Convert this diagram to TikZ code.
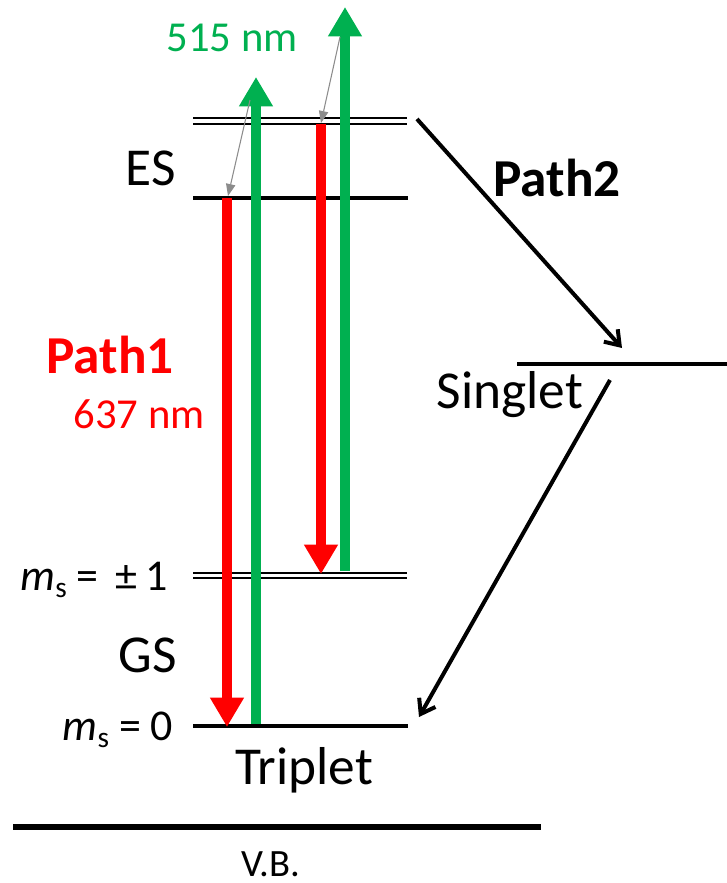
\documentclass[tikz,border=0pt]{standalone}
\usepackage{fontspec}
\setmainfont{Carlito}
\usetikzlibrary{arrows.meta}
\definecolor{pgreen}{RGB}{0,176,80}
\definecolor{pred}{RGB}{255,0,0}
\begin{document}
\begin{tikzpicture}[x=0.75pt,y=-0.75pt,
  level/.style={line width=3pt},
  thinlevel/.style={line width=1.6pt},
  beam/.style={line width=7.5pt,-{Triangle[width=24pt,length=22pt]}},
  graya/.style={draw=gray!90,line width=0.8pt,-{Triangle[width=7pt,length=9pt]}},
  blacka/.style={line width=3pt,-{Straight Barb[width=14pt,length=10pt,line width=3pt]}},
  lbl/.style={inner sep=0pt,font=\fontsize{40}{48}\selectfont},
  wl/.style={inner sep=0pt,font=\fontsize{32}{38}\selectfont},
  msl/.style={inner sep=0pt,font=\fontsize{33}{40}\selectfont}]
\useasboundingbox (0,0) rectangle (727,883);
% levels
\coordinate (esaL) at (193,118); \coordinate (esaR) at (407,118);
\coordinate (esbL) at (193,124); \coordinate (esbR) at (407,124);
\draw[thinlevel] (esaL) -- (esaR); \draw[thinlevel] (esbL) -- (esbR);
\coordinate (esL) at (193,198); \coordinate (esR) at (408,198);
\draw[level] (esL) -- (esR);
\coordinate (gaL) at (193,573); \coordinate (gaR) at (407,573);
\coordinate (gbL) at (193,578); \coordinate (gbR) at (407,578);
\draw[thinlevel] (gaL) -- (gaR); \draw[thinlevel] (gbL) -- (gbR);
\coordinate (g0L) at (193,726); \coordinate (g0R) at (408,726);
\draw[level] (g0L) -- (g0R);
\coordinate (sL) at (517,364); \coordinate (sR) at (727,364);
\draw[line width=2.6pt] (sL) -- (sR);
\coordinate (vbL) at (13,827); \coordinate (vbR) at (541,827);
\draw[line width=4.5pt] (vbL) -- (vbR);
% beams
\coordinate (r1s) at (227,198); \coordinate (r1e) at (227,727);
\draw[beam,pred] (r1s) -- (r1e);
\coordinate (g1s) at (256,724); \coordinate (g1e) at (256,77);
\draw[beam,pgreen] (g1s) -- (g1e);
\coordinate (r2s) at (321,124); \coordinate (r2e) at (321,574);
\draw[beam,pred] (r2s) -- (r2e);
\coordinate (g2s) at (345,571); \coordinate (g2e) at (345,7);
\draw[beam,pgreen] (g2s) -- (g2e);
% gray arrows
\coordinate (ga1s) at (250,100); \coordinate (ga1e) at (228,196);
\draw[graya] (ga1s) -- (ga1e);
\coordinate (ga2s) at (340,37); \coordinate (ga2e) at (321,123);
\draw[graya] (ga2s) -- (ga2e);
% black arrows
\coordinate (p2s) at (417,119); \coordinate (p2e) at (622,348);
\draw[blacka] (p2s) -- (p2e);
\coordinate (p3s) at (610,380); \coordinate (p3e) at (419,717);
\draw[blacka] (p3s) -- (p3e);
% labels
\node[wl,text=pgreen] (t515) at (232,38) {515 nm};
\node[lbl] (tES) at (151,168) {ES};
\node[lbl,text=pred,font=\fontsize{40}{48}\bfseries] (tp1) at (110,355) {Path1};
\node[wl,text=pred] (t637) at (139,414) {637 nm};
\node[lbl,font=\fontsize{40}{48}\bfseries] (tp2) at (557,178) {Path2};
\node[lbl] (tsing) at (510,395) {Singlet};
\node[msl] (tms1) at (94,580) {\textit{m}{\fontsize{22}{26}\selectfont\raisebox{-5pt}{s}} = \,±\,1};
\node[lbl] (tGS) at (148,655) {GS};
\node[msl] (tms0) at (118,730) {\textit{m}{\fontsize{22}{26}\selectfont\raisebox{-5pt}{s}} = 0};
\node[lbl] (ttrip) at (304,770) {Triplet};
\node[lbl,font=\fontsize{29}{34}\selectfont] (tvb) at (271,864) {V.B.};
\end{tikzpicture}
\end{document}
